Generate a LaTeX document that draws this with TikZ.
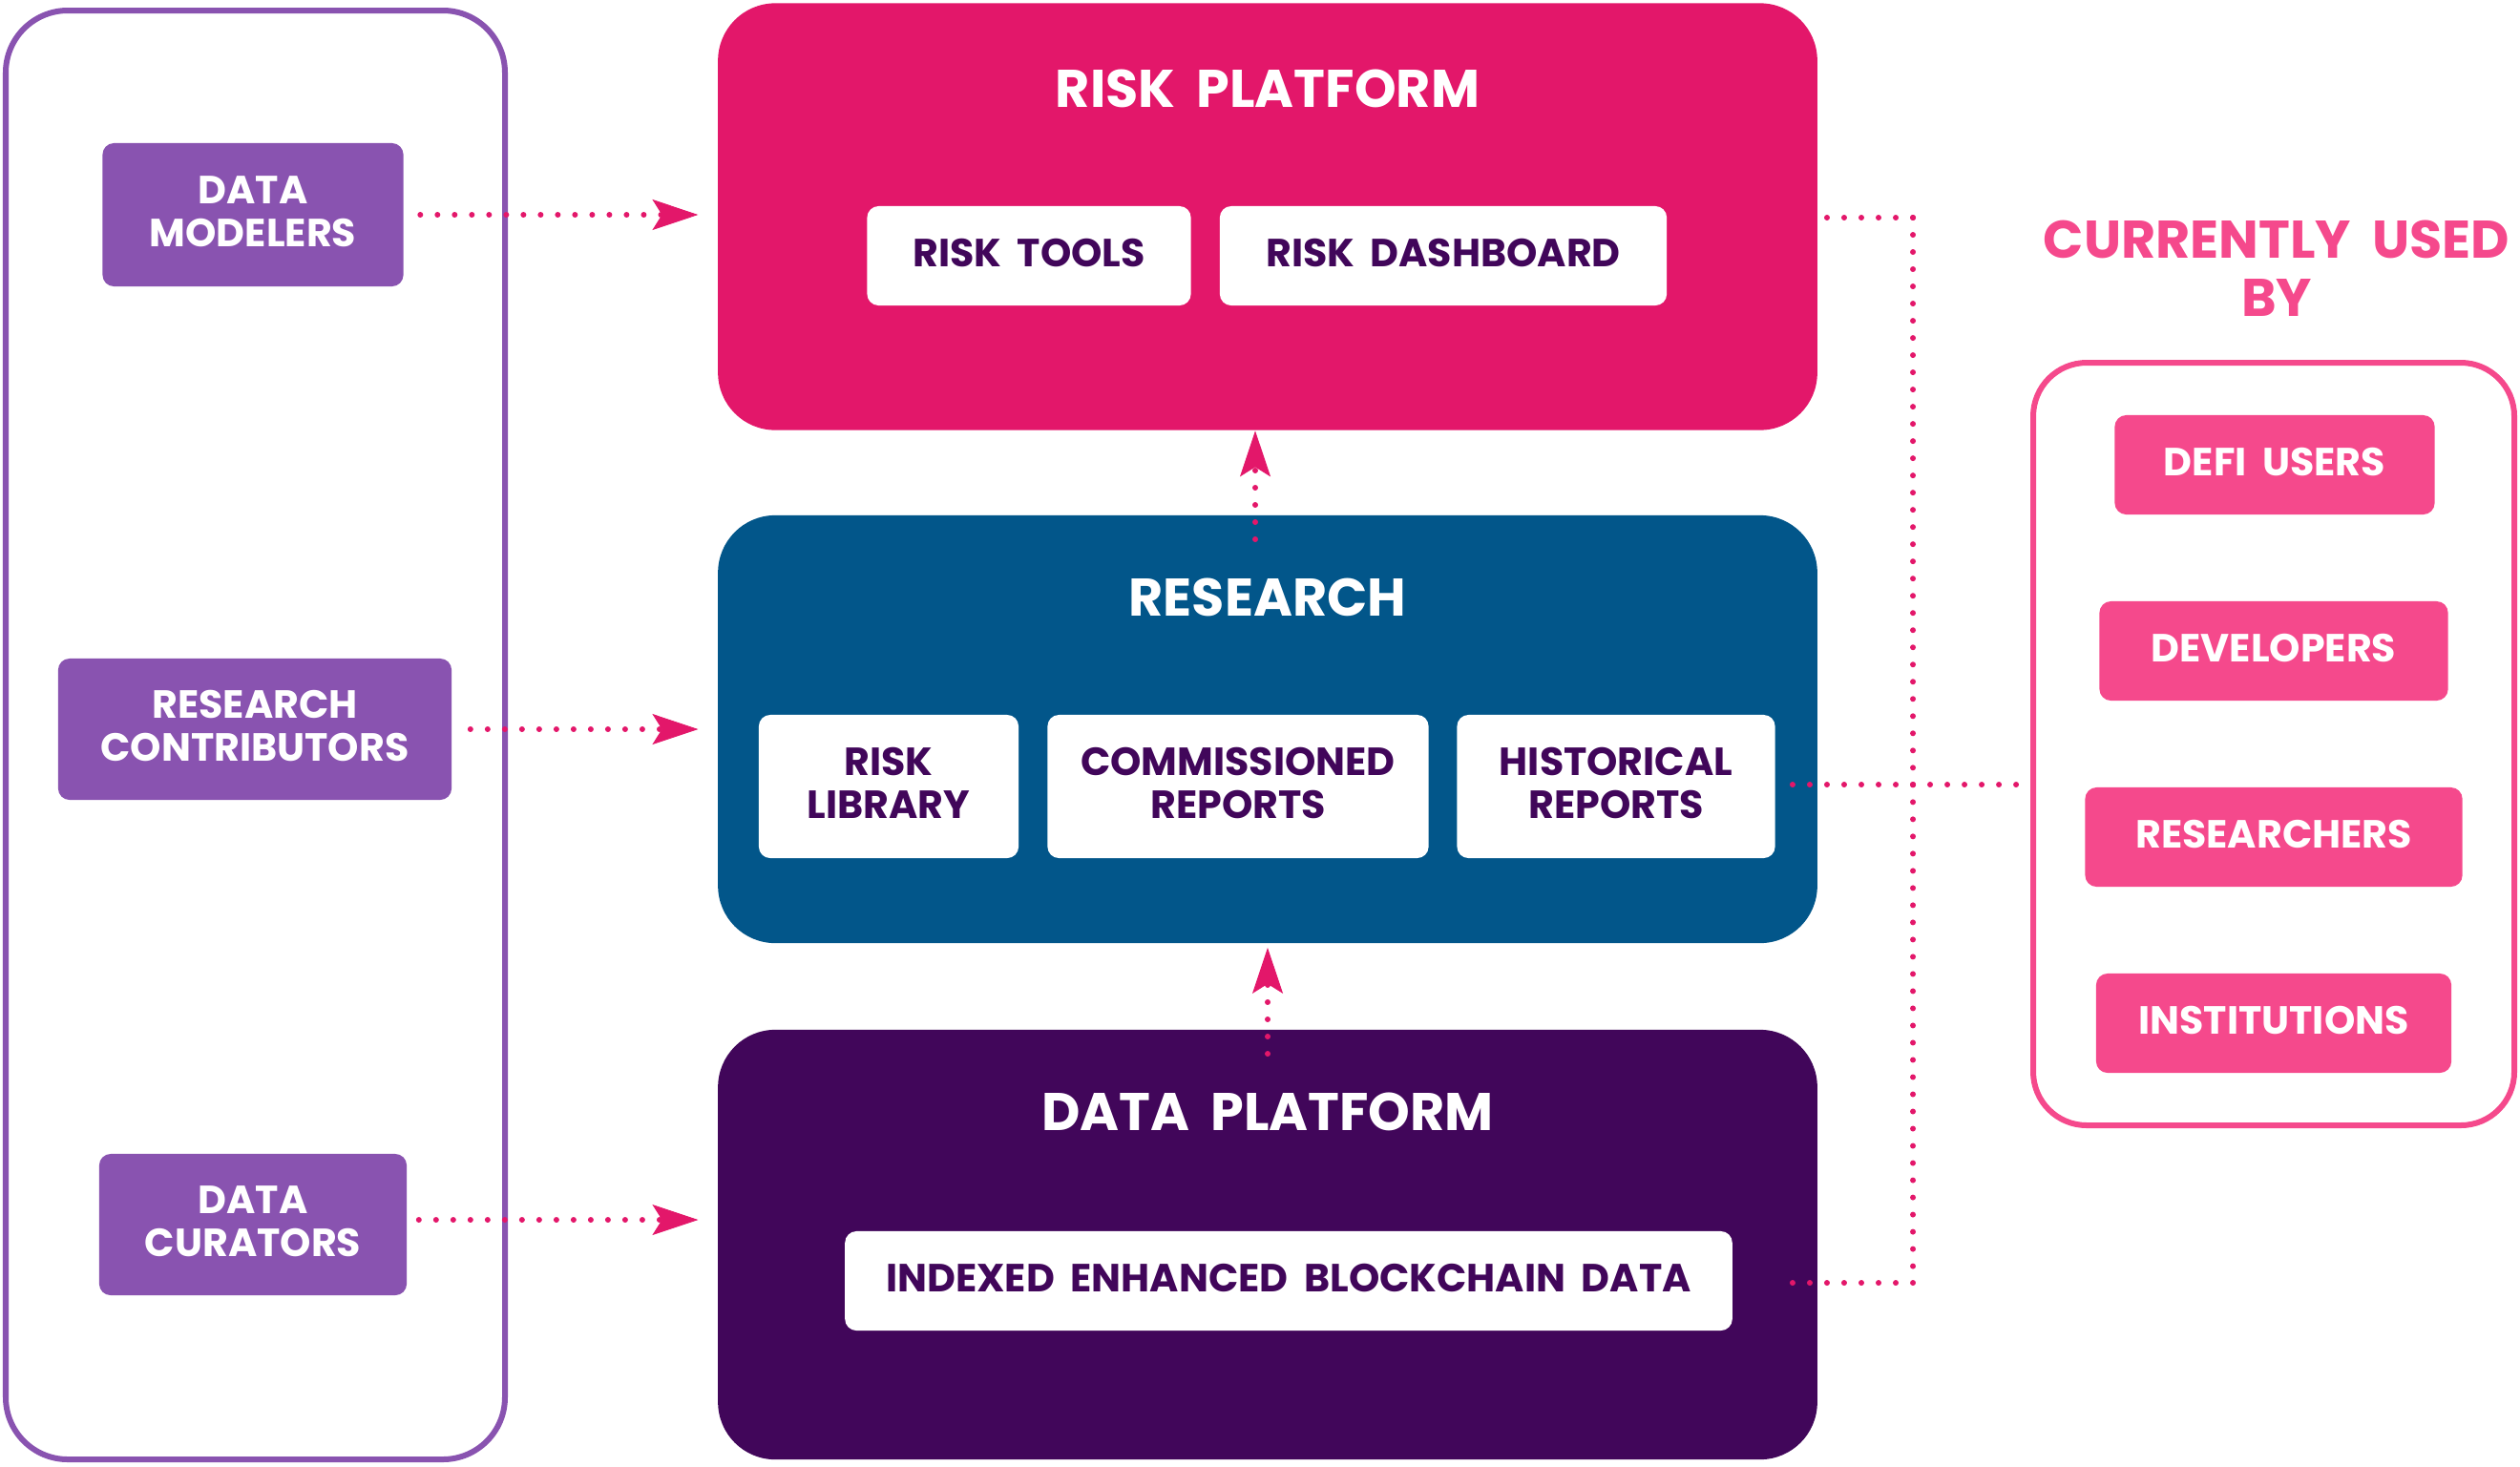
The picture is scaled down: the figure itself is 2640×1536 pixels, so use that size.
\documentclass[tikz,border=0pt]{standalone}
\usepackage{fontspec}
\setmainfont{Poppins}[WordSpace=1.9]
\usetikzlibrary{arrows.meta,positioning}
\definecolor{riskpink}{HTML}{E3176A}
\definecolor{researchblue}{HTML}{02568A}
\definecolor{dataviolet}{HTML}{41065A}
\definecolor{rolepurple}{HTML}{8953B0}
\definecolor{userpink}{HTML}{F5498C}
\tikzstyle{platform} = [
	rounded corners=0.6cm,
	minimum width=11.51cm,
	inner sep=0pt
]
\tikzstyle{heading} = [text=white, font=\bfseries\fontsize{15.8}{17.4}\selectfont]
\tikzstyle{part} = [
	fill=white,
	text=dataviolet,
	rounded corners=0.12cm,
	align=center,
	inner sep=0pt,
	text depth=0.068cm,
	font=\bfseries\fontsize{11.7}{12.8}\selectfont
]
\tikzstyle{role} = [part, fill=rolepurple, text=white]
\tikzstyle{user} = [part, fill=userpink, text=white, minimum height=1.04cm]
\tikzstyle{feed} = [
	draw=riskpink,
	line width=0.06cm,
	line cap=round,
	dash pattern=on 0pt off 0.18cm
]
\tikzstyle{tip} = [-{Stealth[length=0.48cm,width=0.32cm,inset=0.1cm,line width=0.01cm]}]

\begin{document}
\begin{tikzpicture}[x=0.01cm, y=-0.01cm]
	\useasboundingbox (0,0) rectangle (2640,1536);

	% contributors
	\draw[rolepurple, line width=0.06cm, rounded corners=0.65cm] (6,11) rectangle (529,1529);
	\node[role, minimum width=3.15cm, minimum height=1.5cm] (modelers) at (265,225) {DATA\\MODELERS};
	\node[role, minimum width=4.12cm, minimum height=1.48cm] (contrib) at (267,764) {RESEARCH\\CONTRIBUTORS};
	\node[role, minimum width=3.22cm, minimum height=1.48cm] (curators) at (265,1283) {DATA\\CURATORS};

	% the three layers
	\node[platform, fill=riskpink, minimum height=4.47cm] (riskplat) at (1328,227) {};
	\node[heading] (risktitle) at (1328,93) {RISK PLATFORM};
	\node[part, minimum width=3.39cm, minimum height=1.04cm] (tools) at (1078,268) {RISK TOOLS};
	\node[part, minimum width=4.68cm, minimum height=1.04cm] (dash) at (1512,268) {RISK DASHBOARD};

	\node[platform, fill=researchblue, minimum height=4.48cm] (research) at (1328,764) {};
	\node[heading] (restitle) at (1328,626) {RESEARCH};
	\node[part, minimum width=2.72cm, minimum height=1.5cm] (library) at (931,824) {RISK\\LIBRARY};
	\node[part, minimum width=3.99cm, minimum height=1.5cm] (commrep) at (1297,824) {COMMISSIONED\\REPORTS};
	\node[part, minimum width=3.33cm, minimum height=1.5cm] (histrep) at (1693,824) {HISTORICAL\\REPORTS};

	\node[platform, fill=dataviolet, minimum height=4.5cm] (dataplat) at (1328,1304) {};
	\node[heading] (datatitle) at (1328,1165) {DATA PLATFORM};
	\node[part, minimum width=9.29cm, minimum height=1.04cm] (indexed) at (1350,1342) {INDEXED ENHANCED BLOCKCHAIN DATA};

	% users
	\node[heading, text=userpink, align=center] (usedby) at (2385,281) {CURRENTLY USED\\BY};
	\draw[userpink, line width=0.06cm, rounded corners=0.56cm] (2130,380) rectangle (2634,1179);
	\coordinate (usersleft) at (2127,822);
	\node[user, minimum width=3.35cm] (defi) at (2383,487) {DEFI USERS};
	\node[user, minimum width=3.65cm] (devs) at (2382,682) {DEVELOPERS};
	\node[user, minimum width=3.95cm] (researchers) at (2382,877) {RESEARCHERS};
	\node[user, minimum width=3.72cm] (institutions) at (2382,1072) {INSTITUTIONS};

	% flows
	\draw[feed, tip, shorten <=0.17cm, shorten >=0.2cm] (modelers.east) -- (modelers.east -| riskplat.west);
	\draw[feed, tip, shorten <=0.19cm, shorten >=0.2cm] (contrib.east) -- (contrib.east -| research.west);
	\draw[feed, tip, shorten <=0.12cm, shorten >=0.2cm] ([yshift=0.05cm]curators.east) -- ([yshift=0.05cm]curators.east -| dataplat.west);
	\coordinate (upres) at (1315,565);
	\draw[feed, tip] (upres) -- (upres |- riskplat.south);
	\coordinate (updata) at (1328,1104);
	\draw[feed, tip, shorten >=0.04cm] (updata) -- (updata |- research.south);

	\coordinate (topturn) at (2004,228);
	\coordinate (hub) at (2004,822);
	\coordinate (trunk) at (2004,1344);
	\draw[feed] (topturn) -- ([xshift=0.08cm]riskplat.east |- topturn);
	\draw[feed] (topturn) -- (trunk);
	\draw[feed] (trunk) -- ([xshift=-0.28cm]dataplat.east |- trunk);
	\draw[feed] (hub) -- ([xshift=-0.28cm]research.east |- hub);
	\draw[feed] (hub) -- ([xshift=-0.14cm]usersleft);
\end{tikzpicture}
\end{document}
